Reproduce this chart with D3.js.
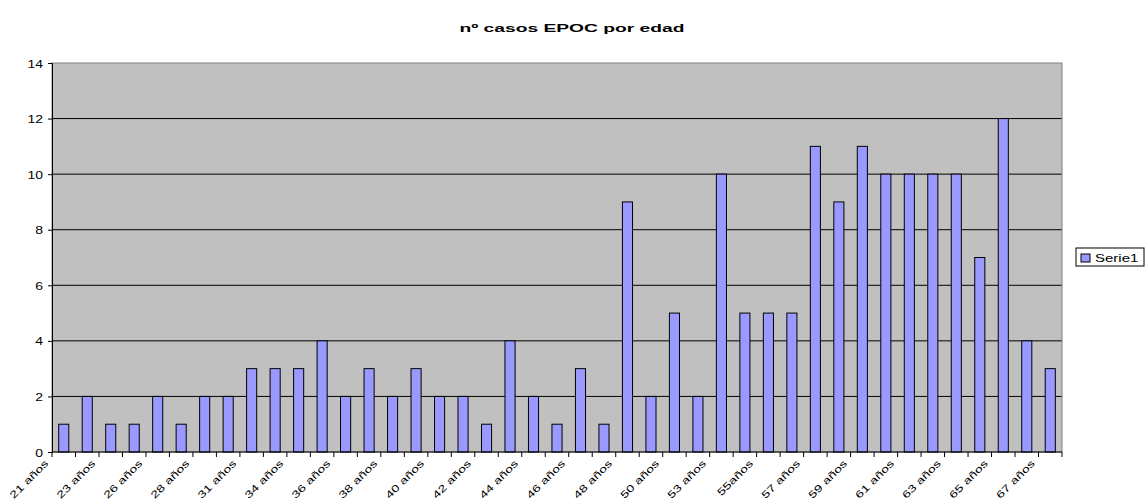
<!DOCTYPE html>
<html>
<head>
<meta charset="utf-8">
<script src="https://cdn.jsdelivr.net/npm/d3@7"></script>
<style>
  body { margin: 0; background: #fff; }
  text { font-family: "Liberation Sans", Arial, sans-serif; }
</style>
</head>
<body>
<script>
let width = 1145,
    height = 501;

let margin = { top: 63, bottom: 49, left: 52, right: 83 };

// ages (only every other one is labelled on the axis)
let ages = ["21 años", "22 años", "23 años", "25 años", "26 años", "27 años", "28 años", "30 años",
  "31 años", "33 años", "34 años", "35 años", "36 años", "37 años", "38 años", "39 años",
  "40 años", "41 años", "42 años", "43 años", "44 años", "45 años", "46 años", "47 años",
  "48 años", "49 años", "50 años", "51 años", "53 años", "54 años", "55años", "56 años",
  "57 años", "58 años", "59 años", "60 años", "61 años", "62 años", "63 años", "64 años",
  "65 años", "66 años", "67 años"];

let casos = [1, 2, 1, 1, 2, 1, 2, 2, 3, 3, 3, 4, 2, 3, 2, 3, 2, 2, 1, 4, 2, 1, 3, 1,
  9, 2, 5, 2, 10, 5, 5, 5, 11, 9, 11, 10, 10, 10, 10, 7, 12, 4, 3];

let yTicks = [0, 2, 4, 6, 8, 10, 12, 14];

let w = width - margin.left - margin.right,
    h = height - margin.top - margin.bottom;

// the original image text is stretched sideways
let stretch = 1.4;

let svg = d3.select("body").append("svg")
    .attr("width", width)
    .attr("height", height);

svg.append("text")
    .attr("transform", "translate(572,32) scale(1.75,1)")
    .style("text-anchor", "middle")
    .style("font-size", "11px")
    .style("font-weight", "bold")
    .text("nº casos EPOC por edad");

let g = svg.append("g")
    .attr("transform", "translate(" + margin.left + "," + margin.top + ")");

let x = d3.scaleBand()
    .domain(ages)
    .range([0, w])
    .paddingInner(0.57)
    .paddingOuter(0.285);

let xCat = d3.scaleBand().domain(ages).range([0, w]);

let y = d3.scaleLinear()
    .domain([0, 14])
    .range([h, 0]);

g.append("rect")
    .attr("width", w)
    .attr("height", h)
    .attr("fill", "#c0c0c0");

g.selectAll(".grid")
    .data(yTicks.filter(d => d > 0 && d < 14))
    .enter().append("line")
    .attr("x1", 0).attr("x2", w)
    .attr("y1", d => y(d)).attr("y2", d => y(d))
    .attr("stroke", "#000")
    .attr("stroke-width", 1);

g.append("rect")
    .attr("width", w)
    .attr("height", h)
    .attr("fill", "none")
    .attr("stroke", "#808080")
    .attr("stroke-width", 1);

g.selectAll(".bar")
    .data(casos)
    .enter().append("rect")
    .attr("x", (d, i) => x(ages[i]))
    .attr("y", d => y(d))
    .attr("width", x.bandwidth())
    .attr("height", d => h - y(d))
    .attr("fill", "#9999ff")
    .attr("stroke", "#000")
    .attr("stroke-width", 1);

// y axis
let yAxis = g.append("g")
    .call(d3.axisLeft(y).tickValues(yTicks).tickSize(4).tickFormat(""));
yAxis.select(".domain").attr("stroke", "#000");
yAxis.selectAll(".tick").append("text")
    .attr("transform", "translate(-9,4) scale(" + stretch + ",1)")
    .attr("fill", "#000")
    .style("text-anchor", "end")
    .style("font-size", "10px")
    .text(d => d);

// x axis: ticks at category boundaries
let xAxis = g.append("g").attr("transform", "translate(0," + h + ")");
xAxis.append("line")
    .attr("x1", 0).attr("x2", w)
    .attr("stroke", "#000");
xAxis.selectAll(".tk")
    .data(ages.concat(["end"]))
    .enter().append("line")
    .attr("x1", (d, i) => i * xCat.step())
    .attr("x2", (d, i) => i * xCat.step())
    .attr("y1", 0).attr("y2", 5)
    .attr("stroke", "#000");

xAxis.selectAll(".lbl")
    .data(ages.filter((d, i) => i % 2 === 0))
    .enter().append("text")
    .attr("transform", d => "translate(" + (xCat(d) - 3) + ",12) rotate(-45) scale(" + stretch + ",1)")
    .style("text-anchor", "end")
    .style("font-size", "10px")
    .text(d => d);

// legend
let lg = svg.append("g").attr("transform", "translate(1076,248)");
lg.append("rect")
    .attr("width", 68).attr("height", 18)
    .attr("fill", "#fff")
    .attr("stroke", "#000");
lg.append("rect")
    .attr("x", 5).attr("y", 6)
    .attr("width", 9).attr("height", 8)
    .attr("fill", "#9999ff")
    .attr("stroke", "#000");
lg.append("text")
    .attr("transform", "translate(19,14) scale(1.5,1)")
    .style("font-size", "10px")
    .text("Serie1");
</script>
</body>
</html>
